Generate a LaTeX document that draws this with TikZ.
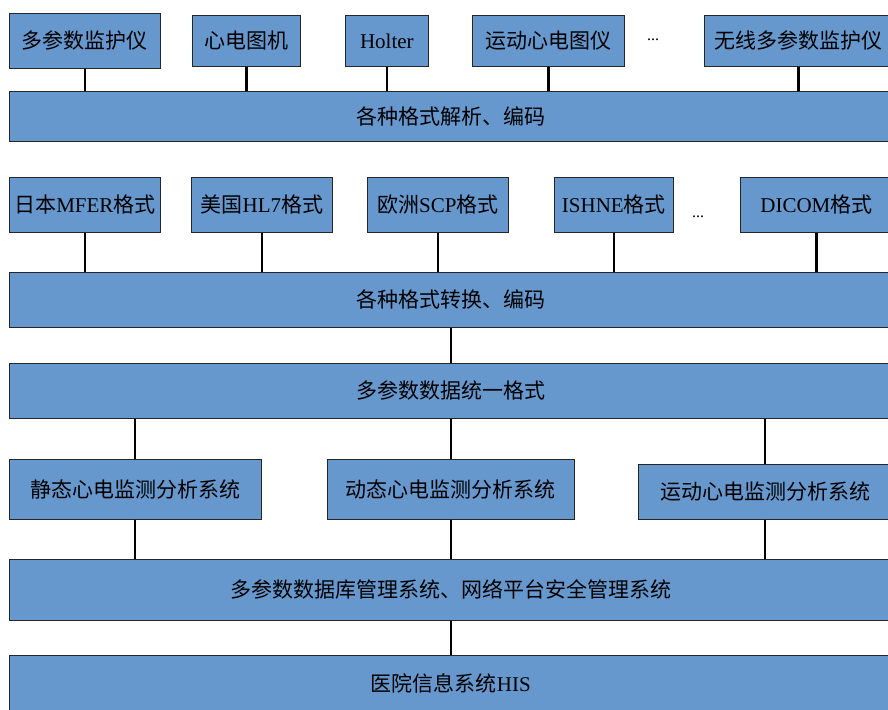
\documentclass[tikz,border=0pt]{standalone}
\usepackage{fontspec}
\setmainfont{Liberation Serif}
\newfontfamily\cjk{Noto Sans CJK SC}
\definecolor{boxblue}{RGB}{102,152,206}
\begin{document}
\begin{tikzpicture}[x=1pt,y=-1pt,
  box/.style={draw=black!85, line width=0.8pt, fill=boxblue, inner sep=0pt,
    anchor=north west, font=\fontsize{21}{25}\selectfont\cjk},
  dots/.style={font=\fontsize{16}{18}\selectfont\rmfamily, inner sep=0pt},
  link/.style={line width=2.2pt},
  thinlink/.style={line width=2pt}]
\useasboundingbox (0,0) rectangle (888,709);
% row 1
\node[box, minimum width=151pt, minimum height=55pt] (a1) at (9,13) {多参数监护仪};
\node[box, minimum width=108pt, minimum height=51pt] (a2) at (192,15) {心电图机};
\node[box, minimum width=83pt, minimum height=51pt] (a3) at (345,15) {\rmfamily Holter};
\node[box, minimum width=152pt, minimum height=51pt] (a4) at (472,15) {运动心电图仪};
\node[dots] (a5) at (653,40) {...};
\node[box, minimum width=188pt, minimum height=51pt] (a6) at (704,15) {无线多参数监护仪};
\node[box, minimum width=883pt, minimum height=50pt] (b1) at (9,91) {各种格式解析、编码};
% row 2
\node[box, minimum width=151pt, minimum height=55pt] (c1) at (9,177) {日本{\rmfamily MFER}格式};
\node[box, minimum width=141pt, minimum height=55pt] (c2) at (191,177) {美国{\rmfamily HL7}格式};
\node[box, minimum width=141pt, minimum height=55pt] (c3) at (367,177) {欧洲{\rmfamily SCP}格式};
\node[box, minimum width=119pt, minimum height=55pt] (c4) at (554,177) {{\rmfamily ISHNE}格式};
\node[dots] (c5) at (698,217) {...};
\node[box, minimum width=152pt, minimum height=55pt] (c6) at (740,177) {{\rmfamily DICOM}格式};
\node[box, minimum width=883pt, minimum height=55pt] (d1) at (9,272) {各种格式转换、编码};
\node[box, minimum width=883pt, minimum height=55pt] (e1) at (9,363) {多参数数据统一格式};
% row 3
\node[box, minimum width=252pt, minimum height=60pt] (f1) at (9,459) {静态心电监测分析系统};
\node[box, minimum width=247pt, minimum height=60pt] (f2) at (327,459) {动态心电监测分析系统};
\node[box, minimum width=254pt, minimum height=55pt] (f3) at (638,464) {运动心电监测分析系统};
\node[box, minimum width=883pt, minimum height=61pt] (g1) at (9,559) {多参数数据库管理系统、网络平台安全管理系统};
\node[box, minimum width=883pt, minimum height=56pt] (h1) at (9,655) {医院信息系统{\rmfamily HIS}};
% connectors
\foreach \n in {a1,a2,a3,a4,a6}
  \draw[link] (\n.south) -- (\n.south |- b1.north);
\foreach \n in {c1,c2,c3,c4,c6}
  \draw[link] (\n.south) -- (\n.south |- d1.north);
\draw[thinlink] (d1.south) -- (e1.north);
\foreach \n in {f1,f2,f3}
  \draw[thinlink] (e1.south -| \n.north) -- (\n.north);
\foreach \n in {f1,f2,f3}
  \draw[thinlink] (\n.south) -- (\n.south |- g1.north);
\draw[thinlink] (g1.south) -- (h1.north);
\end{tikzpicture}
\end{document}
